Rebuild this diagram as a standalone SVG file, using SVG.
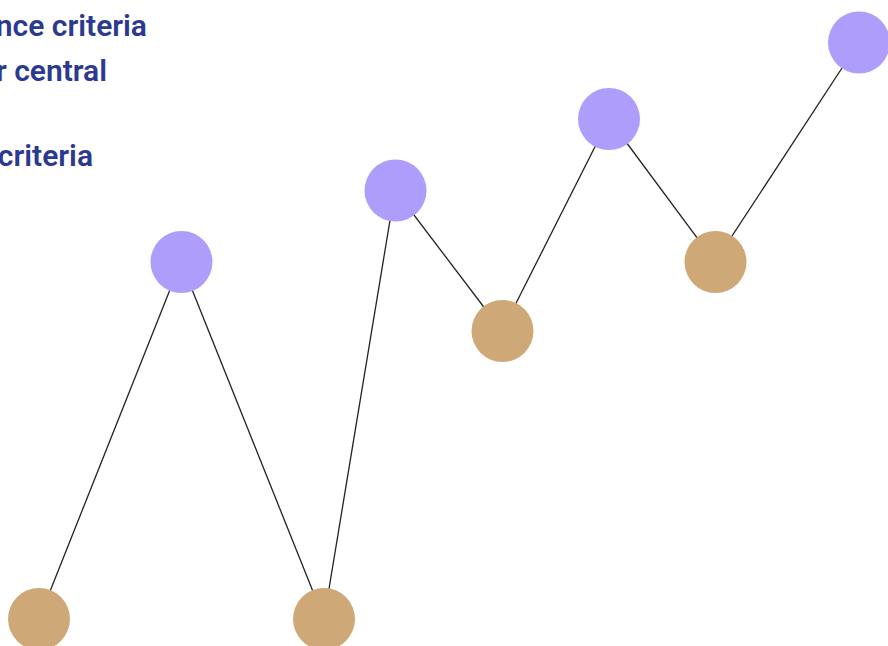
<svg xmlns="http://www.w3.org/2000/svg" width="888" height="646" viewBox="0 0 888 646">
<style>
.t{font-family:Roboto,"Liberation Sans",sans-serif;font-weight:600;font-size:30px;fill:#2b3990;text-anchor:end}
.p{fill:#af9dfc}
.b{fill:#cfa877}
.e{stroke:#222;stroke-width:1.3;fill:none}
</style>
<rect width="888" height="646" fill="#fff"/>
<g id="label">
<text class="t" x="147" y="36">nce criteria</text>
<text class="t" x="107" y="81">r central</text>
<text class="t" x="93" y="166">criteria</text>
</g>
<g id="connectors">
<line class="e" x1="39" y1="619" x2="181" y2="262"/>
<line class="e" x1="181" y1="262" x2="324" y2="619"/>
<line class="e" x1="324" y1="619" x2="395" y2="190"/>
<line class="e" x1="395" y1="190" x2="502" y2="331"/>
<line class="e" x1="502" y1="331" x2="609" y2="119"/>
<line class="e" x1="609" y1="119" x2="715" y2="262"/>
<line class="e" x1="715" y1="262" x2="859" y2="42"/>
</g>
<g id="n1"><circle class="b" cx="39" cy="619" r="31"/></g>
<g id="n2"><circle class="p" cx="181.5" cy="262" r="31"/></g>
<g id="n3"><circle class="b" cx="324" cy="619" r="31"/></g>
<g id="n4"><circle class="p" cx="395.5" cy="190.5" r="31"/></g>
<g id="n5"><circle class="b" cx="502.5" cy="331" r="31"/></g>
<g id="n6"><circle class="p" cx="609" cy="119" r="31"/></g>
<g id="n7"><circle class="b" cx="715.5" cy="262" r="31"/></g>
<g id="n8"><circle class="p" cx="859" cy="42.5" r="31"/></g>
</svg>
